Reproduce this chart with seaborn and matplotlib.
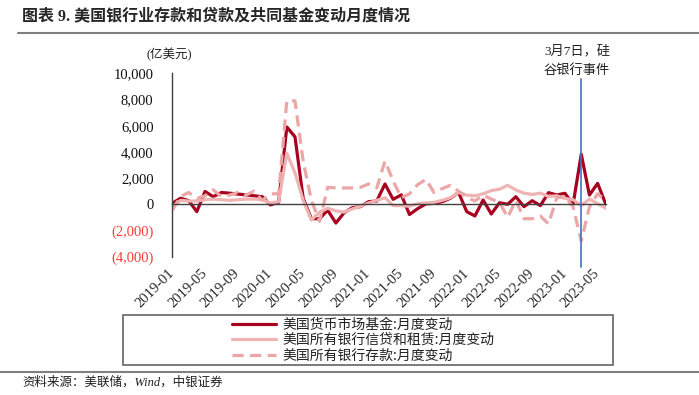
import pandas as pd
import matplotlib
matplotlib.use('Agg')
import matplotlib.pyplot as plt
import seaborn as sns
from matplotlib.lines import Line2D
from matplotlib.patches import Rectangle
from matplotlib.ticker import FuncFormatter

# 月份 2019-01 ~ 2023-06
months = [str(p) for p in pd.period_range('2019-01', '2023-06', freq='M')]

# 美国货币市场基金:月度变动 (亿美元)
mmf = [80, 460, 280, -560, 980, 580, 900, 850, 780, 720,
       650, 580, -50, 150, 5900, 5150, 450, -1100, -1100, -450,
       -1430, -650, -260, -180, 200, 250, 1550, 380, 720, -780,
       -330, 30, 80, 200, 460, 900, -560, -890, 330, -740,
       120, 0, 580, -180, 275, -100, 890, 710, 840, 0,
       3820, 710, 1600, 0]

# 美国所有银行信贷和租赁:月度变动
loans = [-200, 300, 250, 250, 350, 400, 350, 300, 350, 400,
         400, 350, 100, 200, 3900, 2400, 300, -1200, -600, -300,
         -500, -600, -350, -150, 100, 300, 500, -100, -100, -150,
         50, 100, 150, 300, 500, 900, 700, 650, 800, 1050,
         1150, 1450, 1100, 850, 750, 850, 600, 650, 450, 350,
         -100, 400, 50, -300]

# 美国所有银行存款:月度变动
deposits = [-450, 600, 900, 450, 650, 1100, 600, 700, 900, 700,
            1000, 300, 800, 800, 7900, 7900, 3300, 300, -1300, 1300,
            1250, 1250, 1250, 1300, 1550, 1250, 3300, 1800, 500, 800,
            1500, 1900, 900, 1200, 1450, 1000, 550, 250, 700, 400,
            150, -1000, 300, -1100, -1100, -900, -1500, 500, 600, -200,
            -2800, -200, 800, 300]

series_names = ['美国货币市场基金:月度变动', '美国所有银行信贷和租赁:月度变动', '美国所有银行存款:月度变动']
colors = ['#A8001E', '#EFB3B3', '#EBA6A6']
event_month = '2023-03'

cjk = ['Noto Sans CJK SC', 'DejaVu Sans']
serif_cjk = ['Liberation Serif', 'Noto Sans CJK SC']

sns.set_style('white')
plt.rcParams['font.family'] = cjk

W, H = 699, 395
fig = plt.figure(figsize=(W / 100, H / 100), dpi=100)
ax = fig.add_axes([172.3 / W, (H - 256.7) / H, (605.8 - 172.3) / W, (256.7 - 73.3) / H])

x = list(range(len(months)))
sns.lineplot(x=x, y=mmf, ax=ax, color=colors[0], lw=2.3, label=series_names[0])
sns.lineplot(x=x, y=loans, ax=ax, color=colors[1], lw=2.3, label=series_names[1])
sns.lineplot(x=x, y=deposits, ax=ax, color=colors[2], lw=2.3, linestyle=(0, (3.5, 2)),
             label=series_names[2])

ax.set_xlim(0, len(months) - 1)
ax.set_ylim(-4000, 10000)
ax.set_xlabel('')
ax.set_ylabel('')

# 坐标轴
for s in ['top', 'right']:
    ax.spines[s].set_visible(False)
ax.spines['left'].set_color('#404040')
ax.spines['bottom'].set_color('#404040')
ax.spines['left'].set_linewidth(1)
ax.spines['bottom'].set_linewidth(1)
ax.spines['bottom'].set_position(('data', 0))

ax.set_yticks(range(-4000, 10001, 2000))
ax.yaxis.set_major_formatter(FuncFormatter(
    lambda v, p: f'({abs(v):,.0f})' if v < 0 else f'{v:,.0f}'))
ax.tick_params(axis='y', direction='out', length=4, width=1, color='#404040', pad=9.5,
               labelsize=10.5)
for lab in ax.get_yticklabels():
    lab.set_family(serif_cjk)
    lab.set_color('#FF3B3B' if lab.get_text().startswith('(') else '#111111')

ticks = x[::4]
ax.set_xticks(ticks)
ax.set_xticklabels([months[i] for i in ticks], rotation=45, ha='right', va='center',
                   rotation_mode='anchor', family=serif_cjk, fontsize=10.5)
ax.tick_params(axis='x', direction='out', length=4, width=1, color='#404040', pad=44)

# 硅谷银行事件
ev = months.index(event_month)
ax.axvline(ev, ymin=-0.056, ymax=0.969, color='#4472C4', lw=1.2, clip_on=False, zorder=5)
fig.text(577 / W, 1 - 51 / H, '3月7日，硅', ha='center', va='center', fontsize=9.5,
         color='#222222', family=serif_cjk)
fig.text(577 / W, 1 - 70 / H, '谷银行事件', ha='center', va='center', fontsize=9.5,
         color='#222222', family=serif_cjk)

# 单位
fig.text(169 / W, 1 - 55 / H, '(亿美元)', ha='center', va='center', fontsize=9,
         color='#222222', family=serif_cjk)

# 标题与分隔线
fig.text(22 / W, 1 - 16 / H, '图表 9. 美国银行业存款和贷款及共同基金变动月度情况',
         ha='left', va='center', fontsize=11.5, fontweight='bold', family=serif_cjk)
fig.add_artist(Line2D([18 / W, 1], [1 - 32.7 / H] * 2, transform=fig.transFigure,
                      color='#808080', lw=1.5))
fig.add_artist(Line2D([0, 1], [1 - 371.7 / H] * 2, transform=fig.transFigure,
                      color='#808080', lw=1.5))
fig.text(22 / W, 1 - 382 / H, '资料来源：美联储，Wind，中银证券', ha='left', va='center',
         fontsize=9, color='#222222', family=serif_cjk, style='italic')

# 图例
fig.add_artist(Rectangle((123 / W, 1 - 365 / H), (613.3 - 123) / W, (365 - 315) / H,
                         transform=fig.transFigure, fill=False, edgecolor='#707070', lw=1.3))
leg = ax.legend(loc='center left', bbox_to_anchor=(232 / W, 1 - 340 / H),
                bbox_transform=fig.transFigure, frameon=False, fontsize=10,
                handlelength=3.2, handletextpad=0.4, labelspacing=0.1,
                borderaxespad=0, borderpad=0)
for t in leg.get_texts():
    t.set_color('#222222')

fig.savefig('out.png', dpi=100)
